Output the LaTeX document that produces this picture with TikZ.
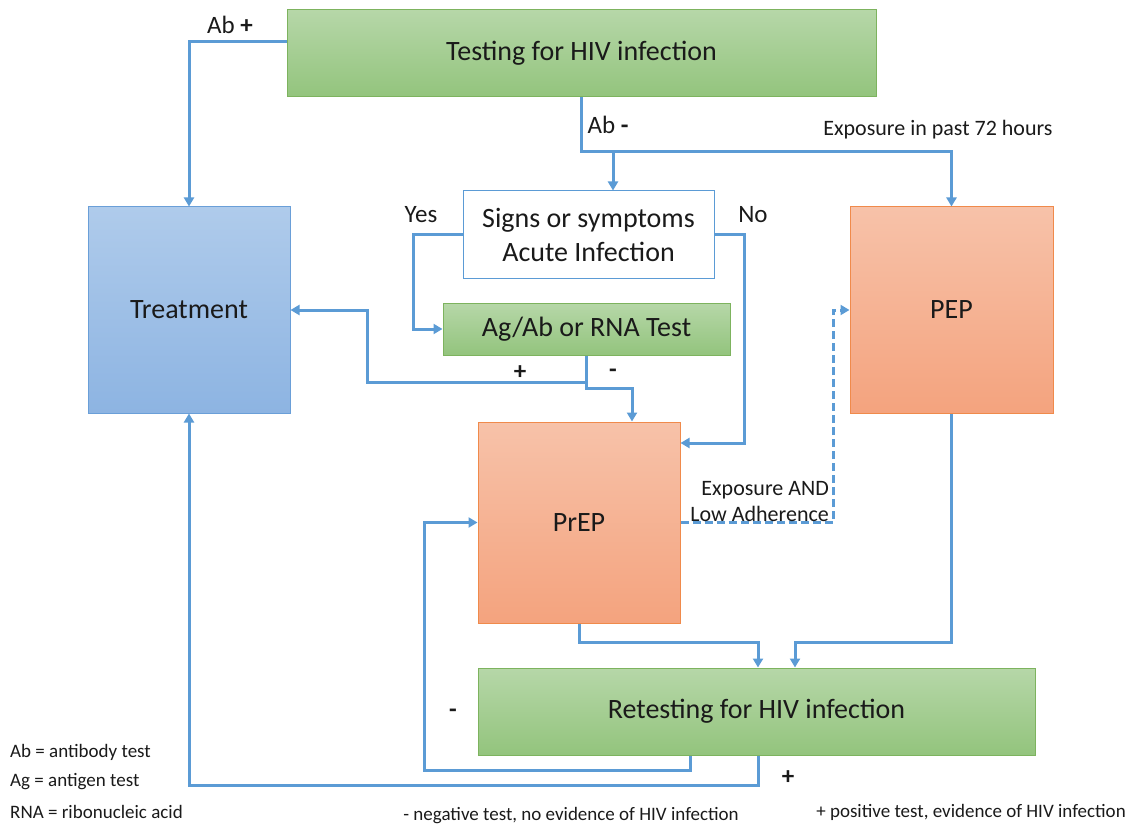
\documentclass[tikz,border=0pt]{standalone}
\usepackage{fontspec}
\setmainfont{Carlito}
\usetikzlibrary{arrows.meta}
\definecolor{lnblue}{HTML}{5B9BD5}
\definecolor{gtop}{HTML}{B6D7A8}
\definecolor{gbot}{HTML}{93C47D}
\definecolor{gbrd}{HTML}{7DB35E}
\definecolor{btop}{HTML}{AFCBEB}
\definecolor{bbot}{HTML}{8DB4E2}
\definecolor{bbrd}{HTML}{6A9FD8}
\definecolor{otop}{HTML}{F7C2A9}
\definecolor{obot}{HTML}{F4A37E}
\definecolor{obrd}{HTML}{F08A4B}
\definecolor{txt}{HTML}{1A1A1A}
\tikzset{
  x=1pt, y=1pt,
  box/.style={rectangle, line width=1pt, inner sep=0pt, align=center, text=txt,
     font=\fontsize{28}{34}\selectfont},
  greenbox/.style={box, draw=gbrd, top color=gtop, bottom color=gbot},
  bluebox/.style={box, draw=bbrd, top color=btop, bottom color=bbot},
  orangebox/.style={box, draw=obrd, top color=otop, bottom color=obot},
  whitebox/.style={box, draw=lnblue, fill=white},
  line/.style={draw=lnblue, line width=3pt},
  arr/.style={line, -{Triangle[length=9pt,width=10pt]}},
  lbl/.style={text=txt, inner sep=0pt, font=\fontsize{25}{30}\selectfont},
  sml/.style={text=txt, inner sep=0pt, font=\fontsize{22}{26}\selectfont},
  leg/.style={text=txt, inner sep=0pt, font=\fontsize{19}{23}\selectfont},
}
\begin{document}
\begin{tikzpicture}
\useasboundingbox (0,0) rectangle (1129,-826);
% nodes
\node[greenbox, minimum width=589, minimum height=87] (test) at (581.5,-53.5) {Testing for HIV infection};
\node[bluebox, minimum width=202, minimum height=206] (treat) at (189,-310) {Treatment};
\node[whitebox, minimum width=251, minimum height=87] (signs) at (588.5,-234.5) {Signs or symptoms\\Acute Infection};
\node[greenbox, minimum width=287, minimum height=52] (agab) at (586.5,-329) {Ag/Ab or RNA Test};
\node[orangebox, minimum width=202, minimum height=201] (prep) at (579,-522.5) {PrEP};
\node[orangebox, minimum width=203, minimum height=206] (pep) at (951.5,-310) {PEP};
\node[greenbox, minimum width=557, minimum height=87] (retest) at (756.5,-711.5) {Retesting for HIV infection};
\coordinate (j1) at (581.5,-152);
\coordinate (j2) at (613,-152);
\coordinate (j3) at (586.5,-382);
% connectors
\draw[arr] ([yshift=11.5]test.west) -| (treat.north);
\draw[arr] (test.south) -- (j1) -| (pep.north);
\draw[arr] (j2) -- (j2 |- signs.north);
\draw[arr] (signs.west) -- ++(-49,0) |- (agab.west);
\draw[arr] (signs.east) -| (744,-443) -- (prep.east |- 0,-443);
\draw[line] (agab.south) -- (j3);
\draw[arr] (j3) -- (367,-382) |- (treat.east);
\draw[arr] (agab.south) -- (586.5,-388) -| ([xshift=53]prep.north);
\draw[arr, dashed, dash pattern=on 8pt off 4pt] (prep.east) -- (833,-522.5) |- (pep.west);
\draw[arr] (prep.south) |- (758,-642) -- (retest.north -| 758,0);
\draw[arr] (pep.south) |- (795,-642) -- (retest.north -| 795,0);
\draw[arr] (retest.south -| 690,0) -- (690,-770) -| (424,-522.5) -- (prep.west);
\draw[arr] (retest.south -| 758,0) -- (758,-785) -| (treat.south);
% labels
\node[lbl] (abp) at (230,-25) {Ab \textbf{+}};
\node[lbl] (abm) at (608,-125) {Ab \textbf{-}};
\node[sml] (exp72) at (938,-130) {Exposure in past 72 hours};
\node[lbl] (yes) at (421,-215) {Yes};
\node[lbl] (no) at (753,-215) {No};
\node[lbl] (pl1) at (520,-373) {\textbf{+}};
\node[lbl] (mi1) at (613,-373) {\textbf{-}};
\node[sml, align=right, anchor=south east] (expand) at (829,-522) {Exposure AND\\Low Adherence};
\node[lbl] (mi2) at (453,-713) {\textbf{-}};
\node[lbl] (pl2) at (788,-778) {\textbf{+}};
% legend
\node[leg, anchor=west] (l1) at (10,-752) {Ab = antibody test};
\node[leg, anchor=west] (l2) at (10,-782) {Ag = antigen test};
\node[leg, anchor=west] (l3) at (10,-812) {RNA = ribonucleic acid};
\node[leg] (l4) at (571,-816) {- negative test, no evidence of HIV infection};
\node[leg] (l5) at (971,-812) {+ positive test, evidence of HIV infection};
\end{tikzpicture}
\end{document}
